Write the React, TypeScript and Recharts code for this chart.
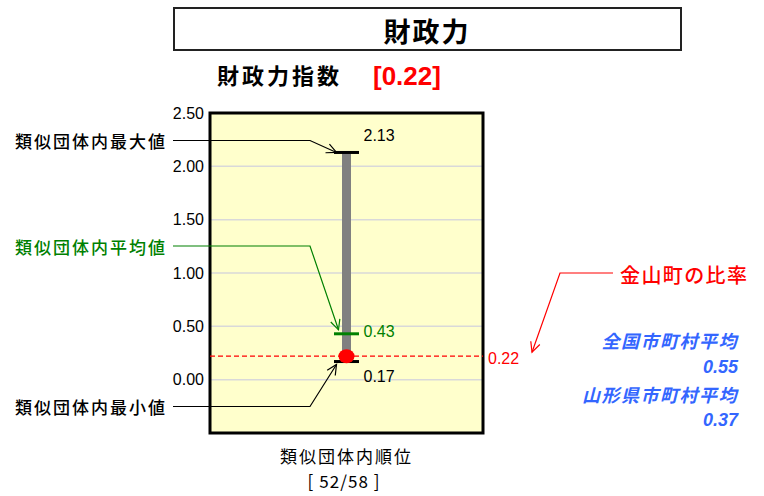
import React from 'react';
import {
  ComposedChart,
  Bar,
  Scatter,
  XAxis,
  YAxis,
  CartesianGrid,
  ReferenceLine,
  ReferenceArea,
} from 'recharts';

// ---- data ----
const categories = ['類似団体内順位'];
const rankLabels = ['[ 52/58 ]'];
const maxValues = [2.13];
const avgValues = [0.43];
const minValues = [0.17];
const townValues = [0.22];
const yTicks = [0, 0.5, 1, 1.5, 2, 2.5];
const yDomain = [-0.5, 2.5];
const indexLabel = '[0.22]';
const nationalLabel = '全国市町村平均';
const nationalValue = '0.55';
const prefLabel = '山形県市町村平均';
const prefValue = '0.37';

const data = categories.map((name, i) => ({
  name,
  rank: rankLabels[i],
  range: [minValues[i], maxValues[i]],
  max: maxValues[i],
  avg: avgValues[i],
  min: minValues[i],
  town: townValues[i],
}));

const W = 764;
const H = 496;
const NUM_FONT = '"Liberation Sans", Arial, sans-serif';
const JP_FONT = '"Noto Sans CJK JP", "Liberation Sans", sans-serif';

// callout label rows (layout)
const CALLOUT_MAX_Y = 140.5;
const CALLOUT_AVG_Y = 246;
const CALLOUT_MIN_Y = 406.5;
const TOWN_CALLOUT_Y = 273;

const arrowHead = (x0: number, y0: number, x1: number, y1: number, color: string) => {
  const ang = Math.atan2(y1 - y0, x1 - x0);
  const len = 11;
  const spread = 0.45;
  const a1 = ang + Math.PI - spread;
  const a2 = ang + Math.PI + spread;
  return (
    <path
      d={`M${x1 + len * Math.cos(a1)},${y1 + len * Math.sin(a1)} L${x1},${y1} L${x1 + len * Math.cos(a2)},${y1 + len * Math.sin(a2)}`}
      stroke={color}
      strokeWidth={1.2}
      fill="none"
    />
  );
};

const Leader = ({ color, textY, tipX, tipY }: { color: string; textY: number; tipX: number; tipY: number }) => {
  const bendX = 310;
  return (
    <g>
      <polyline points={`173,${textY} ${bendX},${textY} ${tipX},${tipY}`} fill="none" stroke={color} strokeWidth={1.2} />
      {arrowHead(bendX, textY, tipX, tipY, color)}
    </g>
  );
};

const MaxShape = (p: any) => {
  const { cx, cy, payload } = p;
  return (
    <g>
      <line x1={cx - 12.5} x2={cx + 12.5} y1={cy} y2={cy} stroke="#000" strokeWidth={3} />
      <text x={cx + 17} y={cy - 17} dominantBaseline="central" fontSize={16} fontFamily={NUM_FONT} fill="#000">
        {payload.max.toFixed(2)}
      </text>
      <Leader color="#000" textY={CALLOUT_MAX_Y} tipX={cx - 10} tipY={cy} />
    </g>
  );
};

const AvgShape = (p: any) => {
  const { cx, cy, payload } = p;
  return (
    <g>
      <line x1={cx - 12.5} x2={cx + 12.5} y1={cy} y2={cy} stroke="#008000" strokeWidth={3} />
      <text x={cx + 17} y={cy - 2} dominantBaseline="central" fontSize={16} fontFamily={NUM_FONT} fill="#008000">
        {payload.avg.toFixed(2)}
      </text>
      <Leader color="#008000" textY={CALLOUT_AVG_Y} tipX={cx - 8} tipY={cy - 4} />
    </g>
  );
};

const MinShape = (p: any) => {
  const { cx, cy, payload } = p;
  return (
    <g>
      <line x1={cx - 12.5} x2={cx + 12.5} y1={cy} y2={cy} stroke="#000" strokeWidth={3} />
      <text x={cx + 17} y={cy + 15} dominantBaseline="central" fontSize={16} fontFamily={NUM_FONT} fill="#000">
        {payload.min.toFixed(2)}
      </text>
      <Leader color="#000" textY={CALLOUT_MIN_Y} tipX={cx - 10} tipY={cy + 3} />
    </g>
  );
};

const TownShape = (p: any) => {
  const { cx, cy } = p;
  return <ellipse cx={cx} cy={cy} rx={8} ry={7} fill="#ff0000" />;
};

const TownLineLabel = (p: any) => {
  const { viewBox } = p;
  const x = viewBox.x + viewBox.width;
  const y = viewBox.y;
  const hy = TOWN_CALLOUT_Y;
  return (
    <g>
      <text x={x + 5} y={y + 2} dominantBaseline="central" fontSize={16} fontFamily={NUM_FONT} fill="#ff0000">
        {townValues[0].toFixed(2)}
      </text>
      <polyline points={`613,${hy} 560,${hy} 532,${y - 4}`} fill="none" stroke="#ff0000" strokeWidth={1.2} />
      {arrowHead(560, hy, 532, y - 4, '#ff0000')}
    </g>
  );
};

const XTick = (p: any) => {
  const { x, payload, index } = p;
  return (
    <g>
      <text x={x} y={455} textAnchor="middle" dominantBaseline="central" fontSize={17} letterSpacing={2} fontFamily={JP_FONT} fill="#000">
        {payload.value}
      </text>
      <text
        x={x - 3}
        y={480}
        textAnchor="middle"
        dominantBaseline="central"
        fontSize={17}
        textLength={72}
        lengthAdjust="spacing"
        fontFamily={JP_FONT}
        fill="#000"
        style={{ whiteSpace: 'pre' }}
      >
        {data[index ?? 0].rank}
      </text>
    </g>
  );
};

export default function App() {
  return (
    <div style={{ position: 'absolute', left: 0, top: 0, width: W, height: H, background: '#fff' }}>
      <ComposedChart
        width={W}
        height={H}
        data={data}
        margin={{ top: 113, right: 281, bottom: 13, left: 0 }}
      >
        <CartesianGrid
          vertical={false}
          fill="#ffffcc"
          fillOpacity={1}
          stroke="#d9d9d9"
          strokeWidth={1.5}
        />
        <XAxis
          dataKey="name"
          axisLine={false}
          tickLine={false}
          height={50}
          tick={<XTick />}
          interval={0}
        />
        <YAxis
          type="number"
          domain={yDomain}
          ticks={yTicks}
          width={210}
          axisLine={false}
          tickLine={false}
          tickSize={0}
          tickMargin={6}
          tickFormatter={(v: number) => v.toFixed(2)}
          tick={{ fontSize: 16, fill: '#000', fontFamily: NUM_FONT }}
        />
        <ReferenceArea y1={yDomain[0]} y2={yDomain[1]} fill="none" stroke="#000" strokeWidth={3} ifOverflow="visible" />
        <Bar dataKey="range" barSize={9} fill="#808080" isAnimationActive={false} />
        <ReferenceLine
          y={townValues[0]}
          stroke="#ff0000"
          strokeDasharray="5 3"
          strokeWidth={1.2}
          label={<TownLineLabel />}
        />
        <Scatter dataKey="max" shape={<MaxShape />} isAnimationActive={false} />
        <Scatter dataKey="avg" shape={<AvgShape />} isAnimationActive={false} />
        <Scatter dataKey="min" shape={<MinShape />} isAnimationActive={false} />
        <Scatter dataKey="town" shape={<TownShape />} isAnimationActive={false} />
      </ComposedChart>
      <svg
        width={W}
        height={H}
        style={{ position: 'absolute', left: 0, top: 0, pointerEvents: 'none' }}
      >
        <rect x={174} y={8} width={507} height={42} fill="none" stroke="#222" strokeWidth={2} />
        <text x={427} y={30} textAnchor="middle" dominantBaseline="central" fontSize={27} fontWeight="bold" letterSpacing={2} fontFamily={JP_FONT} fill="#000">
          財政力
        </text>
        <text x={217} y={74} dominantBaseline="central" fontSize={22} fontWeight="bold" letterSpacing={3} fontFamily={JP_FONT} fill="#000">
          財政力指数
        </text>
        <text x={373} y={76} dominantBaseline="central" fontSize={26} fontWeight="bold" fontFamily={NUM_FONT} fill="#ff0000">
          {indexLabel}
        </text>
        <g fontFamily={JP_FONT} fontSize={17} fontWeight={500}>
          <text x={15} y={CALLOUT_MAX_Y} dominantBaseline="central" textLength={150} lengthAdjust="spacing" fill="#000">
            類似団体内最大値
          </text>
          <text x={15} y={CALLOUT_AVG_Y} dominantBaseline="central" textLength={150} lengthAdjust="spacing" fill="#008000">
            類似団体内平均値
          </text>
          <text x={15} y={CALLOUT_MIN_Y} dominantBaseline="central" textLength={150} lengthAdjust="spacing" fill="#000">
            類似団体内最小値
          </text>
        </g>
        <text x={620} y={TOWN_CALLOUT_Y + 1} dominantBaseline="central" fontSize={20} fontWeight={500} textLength={127} lengthAdjust="spacing" fontFamily={JP_FONT} fill="#ff0000">
          金山町の比率
        </text>
        <g fontFamily={JP_FONT} fontWeight="bold" fontStyle="italic" fill="#3366ff" textAnchor="end">
          <text x={738} y={340} dominantBaseline="central" fontSize={18} letterSpacing={1.5}>
            {nationalLabel}
          </text>
          <text x={738} y={367} dominantBaseline="central" fontSize={18} fontFamily={NUM_FONT}>
            {nationalValue}
          </text>
          <text x={738} y={394} dominantBaseline="central" fontSize={18} letterSpacing={1.5}>
            {prefLabel}
          </text>
          <text x={738} y={420} dominantBaseline="central" fontSize={18} fontFamily={NUM_FONT}>
            {prefValue}
          </text>
        </g>
      </svg>
    </div>
  );
}
